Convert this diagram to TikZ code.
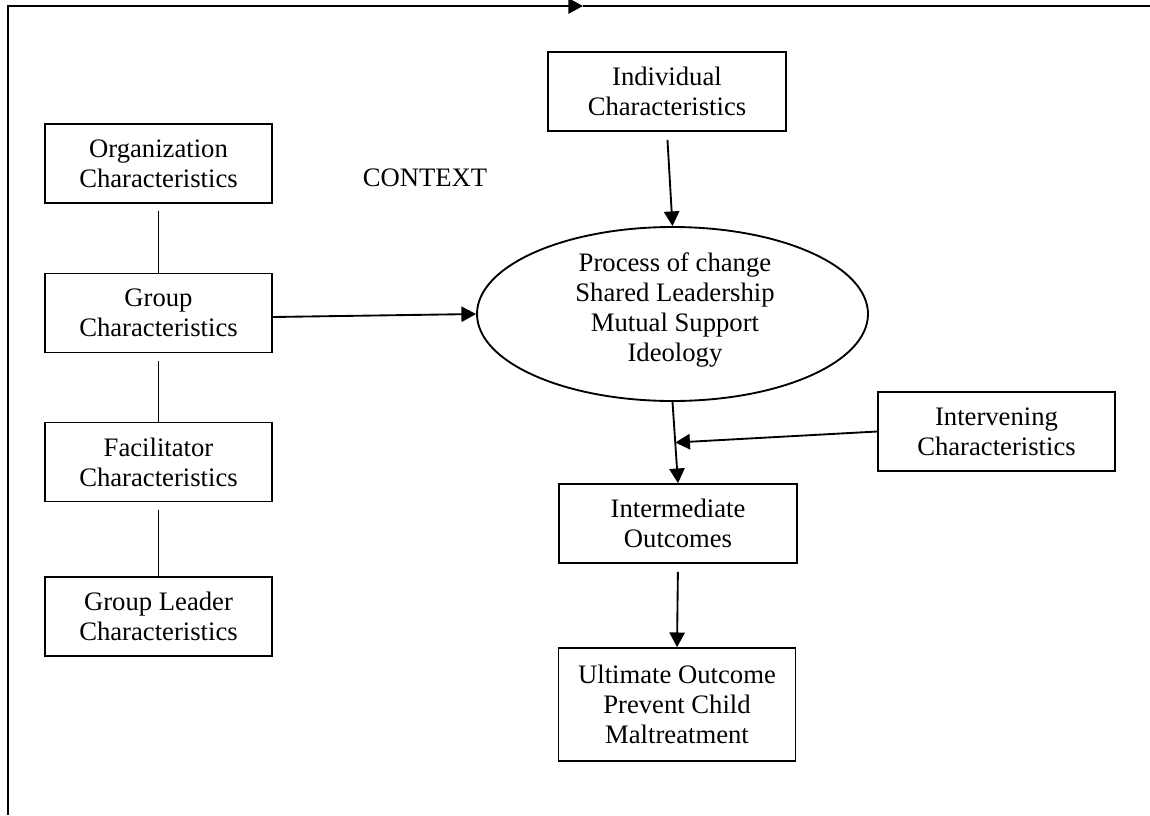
\documentclass[tikz,border=0pt]{standalone}
\usepackage{fontspec}
\setmainfont{Liberation Serif}
\usetikzlibrary{arrows.meta,shapes.geometric,calc}
\begin{document}
\begin{tikzpicture}[x=0.75pt,y=-0.75pt,
  every node/.style={font=\fontsize{20pt}{22.5pt}\selectfont, align=center, inner sep=0pt},
  cbox/.style={draw, line width=1.3pt, rectangle, minimum width=227*0.75pt, minimum height=79*0.75pt},
  wbox/.style={draw, line width=1.3pt, rectangle, minimum width=237*0.75pt, minimum height=79*0.75pt},
  conn/.style={line width=1.4pt},
  arr/.style={line width=1.4pt, -{Triangle[length=11pt,width=11.5pt]}}]
\useasboundingbox (0,0) rectangle (1150,815);
% frame
\coordinate (fb) at (8,815);
\coordinate (ftl) at (8,6);
\coordinate (fm) at (583,6);
\coordinate (fr) at (1152,6);
\draw[arr] (fb) -- (ftl) -- (fm);
\draw[conn] (fm) -- (fr);
% left column
\node[cbox] (org) at (158.5,163.5) {Organization\\Characteristics};
\node[cbox] (grp) at (158.5,313) {Group\\Characteristics};
\node[cbox] (fac) at (158.5,462) {Facilitator\\Characteristics};
\node[cbox] (gld) at (158.5,616.5) {Group Leader\\Characteristics};
\node (ctx) at (425,178) {CONTEXT};
% right side
\node[wbox, minimum width=238*0.75pt] (ind) at (667,91.5) {Individual\\Characteristics};
\node[draw, line width=1.4pt, ellipse, minimum width=391*0.75pt, minimum height=174*0.75pt] (ell) at (672.5,314) {};
\node (elltxt) at (675,310) {Process of change\\Shared Leadership\\Mutual Support\\Ideology};
\node[wbox] (intv) at (996.5,431.5) {Intervening\\Characteristics};
\node[wbox, minimum width=238*0.75pt] (inter) at (678,523.5) {Intermediate\\Outcomes};
\node[wbox, minimum height=113*0.75pt] (ult) at (677,704.5) {Ultimate Outcome\\Prevent Child\\Maltreatment};
% connectors
\draw[conn, shorten <=5.5pt] (org.south) -- (grp.north);
\draw[conn, shorten <=5.5pt] (grp.south) -- (fac.north);
\draw[conn, shorten <=5.5pt] (fac.south) -- (gld.north);
\draw[arr] ([yshift=-3pt]grp.east) -- (ell.west);
\draw[arr, shorten <=6pt] (ind.south) -- (ell.north);
\draw[arr] (ell.south) -- (inter.north);
\coordinate (j) at ($(ell.south)!0.5!(inter.north)$);
\draw[arr] (intv.west) -- (j);
\draw[arr, shorten <=6pt] (inter.south) -- (ult.north);
\end{tikzpicture}
\end{document}
